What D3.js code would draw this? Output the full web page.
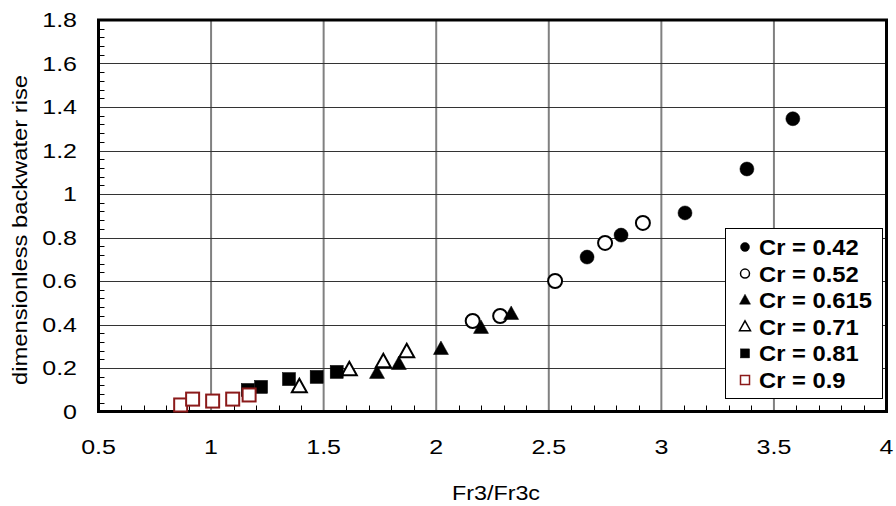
<!DOCTYPE html>
<html>
<head>
<meta charset="utf-8">
<script src="https://cdn.jsdelivr.net/npm/d3@7"></script>
<style>
  body { margin: 0; background: #fff; }
  svg { display: block; font-family: "Liberation Sans", Arial, sans-serif; }
</style>
</head>
<body>
<div id="chart"></div>
<script>
// series values: [Fr3/Fr3c, dimensionless backwater rise]
const cr042 = [[2.670, 0.710], [2.821, 0.811], [3.105, 0.913], [3.380, 1.115], [3.584, 1.346]];
const cr052 = [[2.162, 0.416], [2.284, 0.439], [2.528, 0.600], [2.750, 0.775], [2.918, 0.867]];
const cr0615 = [[1.737, 0.177], [1.834, 0.218], [2.021, 0.287], [2.199, 0.384], [2.333, 0.448]];
const cr071 = [[1.392, 0.113], [1.614, 0.191], [1.765, 0.228], [1.869, 0.274]];
const cr081 = [[1.163, 0.099], [1.222, 0.113], [1.346, 0.149], [1.469, 0.159], [1.558, 0.182]];
const cr09 = [[0.865, 0.030], [0.918, 0.057], [1.007, 0.048], [1.096, 0.057], [1.169, 0.076]];

const seriesNames = ["Cr = 0.42", "Cr = 0.52", "Cr = 0.615", "Cr = 0.71", "Cr = 0.81", "Cr = 0.9"];
const xTicks = [0.5, 1, 1.5, 2, 2.5, 3, 3.5, 4];
const yTicks = [0, 0.2, 0.4, 0.6, 0.8, 1, 1.2, 1.4, 1.6, 1.8];

const series = [
  { name: seriesNames[0], data: cr042, shape: "circle", fill: "#000", stroke: "#000" },
  { name: seriesNames[1], data: cr052, shape: "circle", fill: "#fff", stroke: "#000" },
  { name: seriesNames[2], data: cr0615, shape: "triangle", fill: "#000", stroke: "#000" },
  { name: seriesNames[3], data: cr071, shape: "triangle", fill: "#fff", stroke: "#000" },
  { name: seriesNames[4], data: cr081, shape: "square", fill: "#000", stroke: "#000" },
  { name: seriesNames[5], data: cr09, shape: "square", fill: "#fff", stroke: "#8b1a1a" }
];

const width = 896, height = 506;
const plot = { left: 98.5, right: 886.5, top: 20, bottom: 411.5 };

const svg = d3.select("#chart").append("svg")
  .attr("width", width)
  .attr("height", height);

const x = d3.scaleLinear().domain([0.5, 4]).range([plot.left, plot.right]);
const y = d3.scaleLinear().domain([0, 1.8]).range([plot.bottom, plot.top]);

// the source image is a bit stretched sideways, so text gets a horizontal scale
function wideText(g, px, py, sx, txt) {
  return g.append("text")
    .attr("transform", `translate(${px},${py}) scale(${sx},1)`)
    .text(txt);
}

// grid
svg.append("g").selectAll("line")
  .data(xTicks.slice(1, -1))
  .join("line")
  .attr("x1", d => x(d)).attr("x2", d => x(d))
  .attr("y1", plot.top).attr("y2", plot.bottom)
  .attr("stroke", "#808080").attr("stroke-width", 2);

svg.append("g").selectAll("line")
  .data(yTicks.slice(1, -1))
  .join("line")
  .attr("x1", plot.left).attr("x2", plot.right)
  .attr("y1", d => Math.round(y(d)) + 0.5).attr("y2", d => Math.round(y(d)) + 0.5)
  .attr("stroke", "#333").attr("stroke-width", 1);

// minor ticks, pointing inward
const xMinor = d3.range(0.6, 4, 0.1).filter(v => Math.abs(v * 2 - Math.round(v * 2)) > 1e-6);
svg.append("g").selectAll("line")
  .data(xMinor)
  .join("line")
  .attr("x1", d => Math.round(x(d)) + 0.5).attr("x2", d => Math.round(x(d)) + 0.5)
  .attr("y1", plot.bottom).attr("y2", plot.bottom - 6)
  .attr("stroke", "#000").attr("stroke-width", 1);

const yMinor = d3.range(0.04, 1.8, 0.04).filter(v => Math.abs(v * 5 - Math.round(v * 5)) > 1e-6);
svg.append("g").selectAll("line")
  .data(yMinor)
  .join("line")
  .attr("x1", plot.left).attr("x2", plot.left + 6)
  .attr("y1", d => Math.round(y(d)) + 0.5).attr("y2", d => Math.round(y(d)) + 0.5)
  .attr("stroke", "#000").attr("stroke-width", 1);

// frame
svg.append("rect")
  .attr("x", plot.left).attr("y", plot.top)
  .attr("width", plot.right - plot.left).attr("height", plot.bottom - plot.top)
  .attr("fill", "none").attr("stroke", "#000").attr("stroke-width", 3);

// tick labels
const xLab = svg.append("g").attr("font-size", 20).attr("text-anchor", "middle");
xTicks.forEach(d => wideText(xLab, x(d), 454, 1.25, d));

const yLab = svg.append("g").attr("font-size", 20).attr("text-anchor", "end");
yTicks.forEach(d => wideText(yLab, 77, y(d) + 7, 1.25, d));

// axis titles
svg.append("text")
  .attr("x", 496).attr("y", 500)
  .attr("text-anchor", "middle")
  .attr("font-size", 21)
  .attr("textLength", 88)
  .attr("lengthAdjust", "spacingAndGlyphs")
  .text("Fr3/Fr3c");

svg.append("text")
  .attr("transform", "translate(27,230) rotate(-90)")
  .attr("text-anchor", "middle")
  .attr("font-size", 21)
  .attr("textLength", 310)
  .attr("lengthAdjust", "spacingAndGlyphs")
  .text("dimensionless backwater rise");

// markers
function drawMarker(g, shape, size) {
  if (shape === "circle") {
    return g.append("circle").attr("r", size / 2);
  }
  if (shape === "square") {
    return g.append("rect")
      .attr("x", -size / 2).attr("y", -size / 2)
      .attr("width", size).attr("height", size);
  }
  const h = size * 0.9;
  return g.append("path")
    .attr("d", `M0,${-h * 0.6}L${size / 2},${h * 0.4}L${-size / 2},${h * 0.4}Z`);
}

series.forEach(s => {
  const g = svg.append("g");
  s.data.forEach(p => {
    const m = g.append("g").attr("transform", `translate(${x(p[0])},${y(p[1])})`);
    const size = s.shape === "circle" ? 14 : s.shape === "square" ? 13 : 15;
    drawMarker(m, s.shape, size)
      .attr("fill", s.fill)
      .attr("stroke", s.stroke)
      .attr("stroke-width", s.fill === "#fff" ? 2 : 0.5);
  });
});

// legend
const legend = svg.append("g");
legend.append("rect")
  .attr("x", 725.5).attr("y", 228.5)
  .attr("width", 157).attr("height", 170)
  .attr("fill", "#fff").attr("stroke", "#000").attr("stroke-width", 1);

series.forEach((s, i) => {
  const row = legend.append("g").attr("transform", `translate(745,${247 + i * 26.6})`);
  const size = s.shape === "triangle" ? 11 : 9;
  drawMarker(row, s.shape, size)
    .attr("fill", s.fill)
    .attr("stroke", s.stroke)
    .attr("stroke-width", s.fill === "#fff" ? 1.5 : 0.5);
  wideText(row, 14, 8, 1.08, s.name)
    .attr("font-size", 22)
    .attr("font-weight", "bold");
});
</script>
</body>
</html>
